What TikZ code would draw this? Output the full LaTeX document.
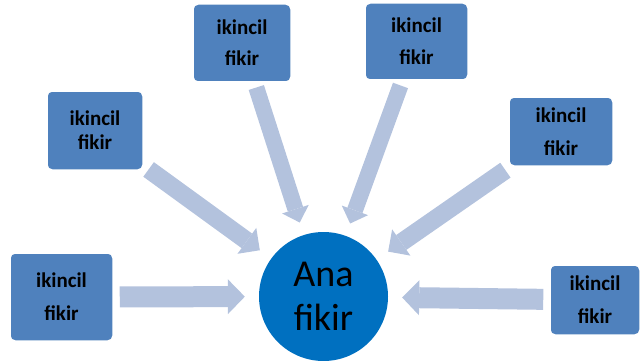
\documentclass[tikz,border=0pt]{standalone}
\usepackage{fontspec}
\setmainfont{Carlito}
\usetikzlibrary{arrows.meta,backgrounds}
\definecolor{boxblue}{HTML}{4F81BD}
\definecolor{anablue}{HTML}{0070C0}
\definecolor{arrowgray}{HTML}{B3C2DD}
\tikzset{
  idea/.style={rectangle, rounded corners=5pt, fill=boxblue, draw=white, line width=1.5pt,
    inner sep=0pt, align=center, font=\bfseries\fontsize{21}{33}\selectfont},
  main/.style={circle, fill=anablue, inner sep=0pt, minimum size=129pt, align=center,
    font=\fontsize{38}{44}\selectfont},
  flow/.style={draw=arrowgray, line width=21pt, -{Triangle[width=35pt,length=17pt,line width=0pt]},
    shorten <=6pt, shorten >=14pt},
  thinflow/.style={flow, line width=16pt, -{Triangle[width=28pt,length=14pt,line width=0pt]},
    shorten <=5pt, shorten >=13pt}
}
\begin{document}
\begin{tikzpicture}[x=1pt,y=-1pt]
\useasboundingbox (0,0) rectangle (640,361);
% main idea
\node[main] (ana) at (323.5,296.5) {Ana\\fikir};
% secondary ideas
\node[idea, minimum width=103pt, minimum height=88pt] (leftlow) at (61.5,297) {ikincil\\fikir};
\node[idea, minimum width=96pt, minimum height=79pt, font=\bfseries\fontsize{21}{24}\selectfont] (leftup) at (95,130.5) {ikincil\\fikir};
\node[idea, minimum width=98pt, minimum height=78pt, font=\bfseries\fontsize{21}{31}\selectfont] (topleft) at (242,43) {ikincil\\fikir};
\node[idea, minimum width=103pt, minimum height=77pt, font=\bfseries\fontsize{21}{32}\selectfont] (topright) at (416.5,41.5) {ikincil\\fikir};
\node[idea, minimum width=104pt, minimum height=69pt] (rightup) at (561,131.5) {ikincil\\fikir};
\node[idea, minimum width=90pt, minimum height=70pt] (rightlow) at (595,300) {ikincil\\fikir};
% arrows
\begin{scope}[on background layer]
\draw[flow] (leftlow) -- (ana);
\draw[flow] (rightlow) -- (ana);
\draw[flow, line width=18pt, -{Triangle[width=32pt,length=16pt,line width=0pt]}] (leftup) -- (ana);
\draw[flow, line width=18pt, -{Triangle[width=32pt,length=16pt,line width=0pt]}] (rightup) -- (ana);
\draw[thinflow] (topleft) -- (ana);
\draw[thinflow] (topright) -- (ana);
\end{scope}
\end{tikzpicture}
\end{document}
